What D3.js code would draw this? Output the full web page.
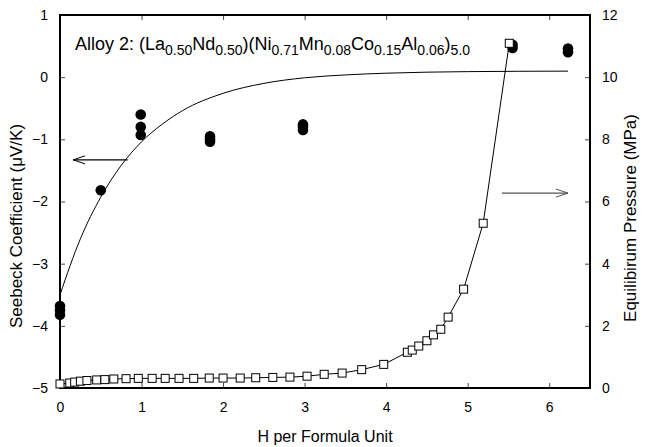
<!DOCTYPE html>
<html><head><meta charset="utf-8">
<script src="https://cdn.jsdelivr.net/npm/d3@7"></script>
<style>body{margin:0;background:#fff;} svg{display:block;font-family:"Liberation Sans",Arial,sans-serif;}</style>
</head><body><svg id="c" width="646" height="447"></svg>
<script>
// Seebeck coefficient measurements (left axis, μV/K)
const seebeckX = [0, 0, 0, 0.5, 0.99, 0.99, 0.99, 1.84, 1.84, 1.84, 2.98, 2.98, 2.98, 5.55, 5.55, 6.23, 6.23];
const seebeckY = [-3.68, -3.75, -3.82, -1.82, -0.6, -0.8, -0.93, -0.95, -1.0, -1.04, -0.76, -0.8, -0.85, 0.47, 0.52, 0.40, 0.46];
// Fitted trend line (left axis)
const fitX = [0, 0.25, 0.5, 0.75, 1.0, 1.25, 1.5, 2.0, 2.5, 3.0, 3.5, 4.0, 5.0, 6.23];
const fitY = [-3.5, -2.6, -1.93, -1.42, -1.04, -0.76, -0.54, -0.26, -0.1, -0.01, 0.036, 0.064, 0.089, 0.097];
// Equilibrium pressure isotherm (right axis, MPa)
const pressX = [0.0, 0.12, 0.18, 0.25, 0.33, 0.45, 0.55, 0.66, 0.81, 0.96, 1.13, 1.29, 1.46, 1.64, 1.83, 2.0, 2.21, 2.4, 2.61, 2.82, 3.03, 3.24, 3.46, 3.70, 3.97, 4.26, 4.32, 4.40, 4.50, 4.58, 4.67, 4.76, 4.95, 5.19, 5.51];
const pressY = [0.13, 0.16, 0.19, 0.22, 0.24, 0.26, 0.27, 0.29, 0.30, 0.31, 0.31, 0.31, 0.31, 0.31, 0.32, 0.32, 0.32, 0.33, 0.34, 0.35, 0.38, 0.44, 0.48, 0.59, 0.76, 1.15, 1.22, 1.35, 1.52, 1.71, 1.89, 2.28, 3.18, 5.30, 11.09];
// Tick labels
const xTicks = [0, 1, 2, 3, 4, 5, 6];
const yLeftTicks = [-5, -4, -3, -2, -1, 0, 1];
const yRightTicks = [0, 2, 4, 6, 8, 10, 12];

const svg = d3.select("#c");
const m = {l: 60, r: 56, t: 15, b: 59};
const W = 646, H = 447;
const x = d3.scaleLinear().domain([0, 6.5]).range([m.l, W - m.r]);
const yL = d3.scaleLinear().domain([-5, 1]).range([H - m.b, m.t]);
const yR = d3.scaleLinear().domain([0, 12]).range([H - m.b, m.t]);

function styleAxis(g) {
  g.select(".domain").remove();
  g.selectAll(".tick line").attr("stroke", "#444").attr("stroke-width", 1);
  g.selectAll(".tick text").attr("fill", "#000").style("font-size", "14px").style("font-family", "Liberation Sans, Arial, sans-serif");
}
// bottom
svg.append("g").attr("transform", `translate(0,${H - m.b})`)
  .call(d3.axisBottom(x).tickValues(xTicks).tickFormat(d3.format("d")).tickSizeInner(-5).tickSizeOuter(0).tickPadding(14))
  .call(styleAxis);
// top ticks
svg.append("g").attr("transform", `translate(0,${m.t})`)
  .call(d3.axisTop(x).tickValues(xTicks).tickFormat("").tickSizeInner(-5).tickSizeOuter(0))
  .call(styleAxis);
// left
svg.append("g").attr("transform", `translate(${m.l},0)`)
  .call(d3.axisLeft(yL).tickValues(yLeftTicks).tickFormat(d3.format("d")).tickSizeInner(-5).tickSizeOuter(0).tickPadding(12))
  .call(styleAxis);
// right
svg.append("g").attr("transform", `translate(${W - m.r},0)`)
  .call(d3.axisRight(yR).tickValues(yRightTicks).tickFormat(d3.format("d")).tickSizeInner(-5).tickSizeOuter(0).tickPadding(12))
  .call(styleAxis);

// frame
svg.append("rect").attr("x", m.l).attr("y", m.t).attr("width", W - m.l - m.r).attr("height", H - m.t - m.b)
  .attr("fill", "none").attr("stroke", "#000").attr("stroke-width", 2);

// fitted line
const fitData = fitX.map((d, i) => [d, fitY[i]]);
svg.append("path").datum(fitData)
  .attr("d", d3.line().x(d => x(d[0])).y(d => yL(d[1])).curve(d3.curveMonotoneX))
  .attr("fill", "none").attr("stroke", "#000").attr("stroke-width", 1);

// Seebeck circles
const sData = seebeckX.map((d, i) => [d, seebeckY[i]]);
svg.append("g").selectAll("circle").data(sData).join("circle")
  .attr("cx", d => x(d[0])).attr("cy", d => yL(d[1])).attr("r", 5.3).attr("fill", "#000");

// pressure line & squares
const pData = pressX.map((d, i) => [d, pressY[i]]);
svg.append("path").datum(pData)
  .attr("d", d3.line().x(d => x(d[0])).y(d => yR(d[1])))
  .attr("fill", "none").attr("stroke", "#000").attr("stroke-width", 1);
const s = 8;
svg.append("g").selectAll("rect").data(pData).join("rect")
  .attr("x", d => x(d[0]) - s / 2).attr("y", d => yR(d[1]) - s / 2)
  .attr("width", s).attr("height", s)
  .attr("fill", "#fff").attr("stroke", "#000").attr("stroke-width", 1);

// arrows
function arrow(x1, y1, x2, y2, color) {
  svg.append("line").attr("x1", x1).attr("y1", y1).attr("x2", x2).attr("y2", y2)
    .attr("stroke", color).attr("stroke-width", 1.3);
  const dir = Math.sign(x2 - x1);
  svg.append("path").attr("d", `M${x2 - dir * 12},${y2 - 4}L${x2},${y2}L${x2 - dir * 12},${y2 + 4}`)
    .attr("fill", "none").attr("stroke", color).attr("stroke-width", 1);
}
arrow(x(0.83), yL(-1.33), x(0.16), yL(-1.33), "#000");
arrow(x(5.42), yR(6.27), x(6.23), yR(6.27), "#555");

// title
const t = svg.append("text").attr("x", 75).attr("y", 50).style("font-size", "18px").attr("fill", "#000");
const parts = [["Alloy 2: (La", 0], ["0.50", 1], ["Nd", 0], ["0.50", 1], [")(Ni", 0], ["0.71", 1], ["Mn", 0], ["0.08", 1],
  ["Co", 0], ["0.15", 1], ["Al", 0], ["0.06", 1], [")", 0], ["5.0", 1]];
let prevSub = 0;
parts.forEach(([txt, sub]) => {
  const ts = t.append("tspan").text(txt);
  if (sub) ts.style("font-size", "14px");
  const dy = sub && !prevSub ? 5 : (!sub && prevSub ? -5 : 0);
  if (dy) ts.attr("dy", dy);
  prevSub = sub;
});

// axis titles
svg.append("text").attr("x", (m.l + W - m.r) / 2).attr("y", 442).attr("text-anchor", "middle")
  .style("font-size", "16px").text("H per Formula Unit");
svg.append("text").attr("transform", `translate(22,226) rotate(-90)`).attr("text-anchor", "middle")
  .style("font-size", "17px").text("Seebeck Coefficient (μV/K)");
svg.append("text").attr("transform", `translate(636,218) rotate(-90)`).attr("text-anchor", "middle")
  .style("font-size", "17px").text("Equilibirum Pressure (MPa)");
</script></body></html>
